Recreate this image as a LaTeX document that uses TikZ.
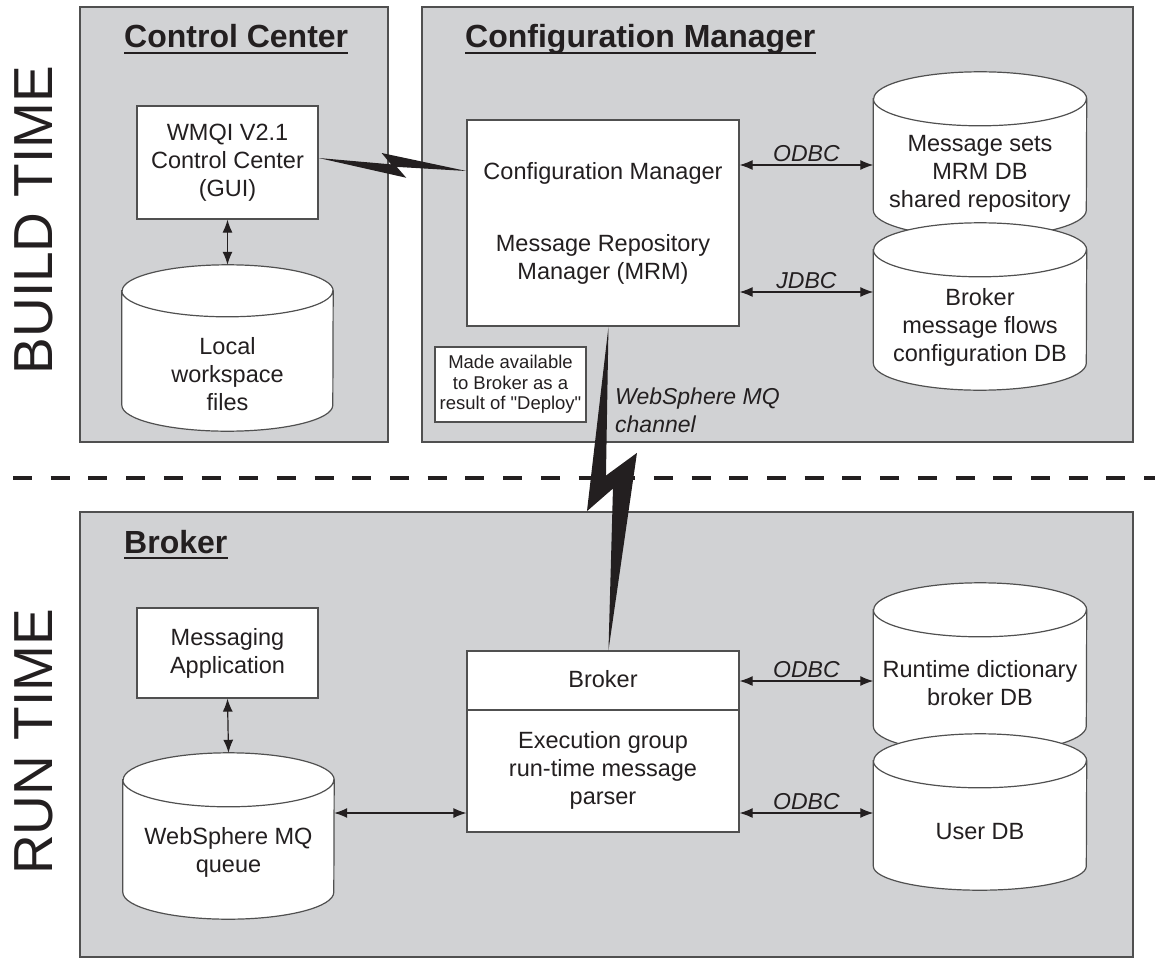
\documentclass[tikz,border=0pt]{standalone}
\usepackage{fontspec}
\setmainfont{Liberation Sans}
\newfontfamily\notefam{Liberation Sans}
\usepackage{tikz}
\usetikzlibrary{arrows.meta}
\usetikzlibrary{calc}
\usepackage{xcolor}

\definecolor{panelgray}{RGB}{209,210,212}
\definecolor{edgegray}{RGB}{80,80,80}
\definecolor{inkblack}{RGB}{35,31,32}

\newcommand{\txtfont}{\fontsize{23.5}{28}\selectfont}
\newcommand{\hdfont}{\fontsize{32}{36}\selectfont\bfseries}
\newcommand{\notefont}{\notefam\fontsize{18.5}{20.5}\selectfont}
\newcommand{\viafont}{\fontsize{23}{28}\selectfont\itshape}
\newcommand{\sidefont}{\fontsize{55}{60}\selectfont}

\tikzset{
    panel/.style = {draw = edgegray, fill = panelgray, line width = 1.4pt},
    box/.style = {draw = edgegray, fill = white, line width = 1.2pt, align = center, inner sep = 0pt, text = inkblack},
    dbbody/.style = {inner sep = 0pt, minimum width = 213pt},
    dbline/.style = {draw = edgegray, fill = white, line width = 1.2pt},
    dbtext/.style = {align = center, inner sep = 0pt, text = inkblack},
    link/.style = {{Latex[length=13pt,width=10pt]}-{Latex[length=13pt,width=10pt]}, line width = 1.2pt, draw = inkblack},
    head/.style = {anchor = base west, inner sep = 0pt, font = \hdfont, text = inkblack},
    via/.style = {font = \viafont, text = inkblack, inner sep = 3pt},
    rule/.style = {line width = 2pt, draw = inkblack}
}

\begin{document}
\begin{tikzpicture}[x = 1pt, y = 1pt, font = \txtfont]
    \useasboundingbox (0,0) rectangle (1155,-963);

    % panels and the split between build and run time
    \draw[panel] (80,-7) rectangle (388,-442);
    \draw[panel] (422,-7) rectangle (1133,-442);
    \draw[panel] (80,-512) rectangle (1133,-957);
    \draw[line width = 4pt, dash pattern = on 19pt off 18.7pt, inkblack] (13,-478) -- (1155,-478);

    \node[rotate = 90, font = \sidefont, text = inkblack] (build) at (34,-220) {BUILD TIME};
    \node[rotate = 90, font = \sidefont, text = inkblack] (run) at (34,-742) {RUN TIME};

    % build time
    \node[head] (cctitle) at (124,-48) {Control Center};
    \draw[rule] ([yshift = -5pt]cctitle.base west) -- ([yshift = -5pt]cctitle.base east);
    \node[head] (cmtitle) at (465,-48) {Configuration Manager};
    \draw[rule] ([yshift = -5pt]cmtitle.base west) -- ([yshift = -5pt]cmtitle.base east);

    \node[box, minimum width = 181pt, minimum height = 113pt] (wmqi) at (227.5,-162.5) {WMQI V2.1\\Control Center\\(GUI)};

    \node[dbbody, minimum width = 211pt, minimum height = 114pt] (local) at (227.5,-348) {};
    \filldraw[dbline] (local.north west) -- (local.south west) arc[start angle = 180, end angle = 360, x radius = 105.5, y radius = 26]
        -- (local.north east) arc[start angle = 0, end angle = 180, x radius = 105.5, y radius = 26] -- cycle
        (local.north west) arc[start angle = 180, end angle = 360, x radius = 105.5, y radius = 26];
    \node[dbtext] (localt) at (227.5,-374.5) {Local\\workspace\\files};
    \draw[link] (wmqi.south) -- ([yshift = 26pt]local.north);

    \node[box, minimum width = 272pt, minimum height = 206pt] (cfg) at (603,-223) {Configuration Manager\\[44pt]Message Repository\\Manager (MRM)};
    \node[box, font = \notefont, minimum width = 151pt, minimum height = 75pt] (note) at (510.5,-384.5) {Made available\\to Broker as a\\result of "Deploy"};

    \node[dbbody, minimum height = 111pt] (msdb) at (980,-154.5) {};
    \filldraw[dbline] (msdb.north west) -- (msdb.south west) arc[start angle = 180, end angle = 360, x radius = 106.5, y radius = 27]
        -- (msdb.north east) arc[start angle = 0, end angle = 180, x radius = 106.5, y radius = 27] -- cycle
        (msdb.north west) arc[start angle = 180, end angle = 360, x radius = 106.5, y radius = 27];
    \node[dbtext] (msdbt) at (980,-173.5) {Message sets\\MRM DB\\shared repository};

    \node[dbbody, minimum height = 113pt] (brdb) at (980,-306.5) {};
    \filldraw[dbline] (brdb.north west) -- (brdb.south west) arc[start angle = 180, end angle = 360, x radius = 106.5, y radius = 27]
        -- (brdb.north east) arc[start angle = 0, end angle = 180, x radius = 106.5, y radius = 27] -- cycle
        (brdb.north west) arc[start angle = 180, end angle = 360, x radius = 106.5, y radius = 27];
    \node[dbtext] (brdbt) at (980,-327.5) {Broker\\message flows\\configuration DB};

    \draw[link] (cfg.east |- 0,-165) -- node[via, above] {ODBC} (msdb.west |- 0,-165);
    \draw[link] (cfg.east |- 0,-292) -- node[via, above] {JDBC} (brdb.west |- 0,-292);

    \coordinate (b1s) at (wmqi.east |- 0,-158);
    \coordinate (b1e) at (cfg.west |- 0,-171);
    \fill[inkblack] (b1s) -- ($(b1s)!.60!(b1e)!12pt!-90:(b1e)$) -- ($(b1s)!.53!(b1e)!2pt!-90:(b1e)$) -- (b1e)
        -- ($(b1s)!.42!(b1e)!10.5pt!90:(b1e)$) -- ($(b1s)!.49!(b1e)$) -- cycle;

    % run time
    \node[head] (brtitle) at (124,-553) {Broker};
    \draw[rule] ([yshift = -5pt]brtitle.base west) -- ([yshift = -5pt]brtitle.base east);

    \node[box, minimum width = 181pt, minimum height = 90pt] (app) at (227.5,-653) {Messaging\\Application};

    \node[dbbody, minimum width = 211pt, minimum height = 112pt] (queue) at (228.5,-836) {};
    \filldraw[dbline] (queue.north west) -- (queue.south west) arc[start angle = 180, end angle = 360, x radius = 105.5, y radius = 27]
        -- (queue.north east) arc[start angle = 0, end angle = 180, x radius = 105.5, y radius = 27] -- cycle
        (queue.north west) arc[start angle = 180, end angle = 360, x radius = 105.5, y radius = 27];
    \node[dbtext] (queuet) at (228.5,-852) {WebSphere MQ\\queue};
    \draw[link] (app.south) -- ([yshift = 27pt]queue.north);

    \node[box, minimum width = 272pt, minimum height = 181pt] (brk) at (603,-741.5) {};
    \draw[line width = 1.2pt, edgegray] (brk.west |- 0,-710) -- (brk.east |- 0,-710);
    \node[text = inkblack] (brkname) at (603,-679) {Broker};
    \node[align = center, text = inkblack] (brkexec) at (603,-770) {Execution group\\run-time message\\parser};
    \draw[link] (queue.east |- 0,-813) -- (brk.west |- 0,-813);

    \node[dbbody, minimum height = 116pt] (rddb) at (980,-668) {};
    \filldraw[dbline] (rddb.north west) -- (rddb.south west) arc[start angle = 180, end angle = 360, x radius = 106.5, y radius = 27]
        -- (rddb.north east) arc[start angle = 0, end angle = 180, x radius = 106.5, y radius = 27] -- cycle
        (rddb.north west) arc[start angle = 180, end angle = 360, x radius = 106.5, y radius = 27];
    \node[dbtext] (rddbt) at (980,-683.5) {Runtime dictionary\\broker DB};

    \node[dbbody, minimum height = 105pt] (uddb) at (980,-813.5) {};
    \filldraw[dbline] (uddb.north west) -- (uddb.south west) arc[start angle = 180, end angle = 360, x radius = 106.5, y radius = 24]
        -- (uddb.north east) arc[start angle = 0, end angle = 180, x radius = 106.5, y radius = 27] -- cycle
        (uddb.north west) arc[start angle = 180, end angle = 360, x radius = 106.5, y radius = 27];
    \node[dbtext] (uddbt) at (980,-832) {User DB};

    \draw[link] (brk.east |- 0,-681) -- node[via, above] {ODBC} (rddb.west |- 0,-681);
    \draw[link] (brk.east |- 0,-813) -- node[via, above] {ODBC} (uddb.west |- 0,-813);

    % channel between manager and broker
    \coordinate (b2s) at ($(cfg.south west)!0.52!(cfg.south east)$);
    \coordinate (b2e) at ($(brk.north west)!0.52!(brk.north east)$);
    \fill[inkblack] (b2s) -- ($(b2s)!.57!(b2e)!21.5pt!-90:(b2e)$) -- ($(b2s)!.50!(b2e)!4.5pt!90:(b2e)$) -- (b2e)
        -- ($(b2s)!.39!(b2e)!28.5pt!90:(b2e)$) -- ($(b2s)!.46!(b2e)!2.5pt!-90:(b2e)$) -- cycle;
    \node[via, align = left, anchor = north west, inner sep = 0pt] (chan) at (615,-388) {WebSphere MQ\\channel};
\end{tikzpicture}
\end{document}
